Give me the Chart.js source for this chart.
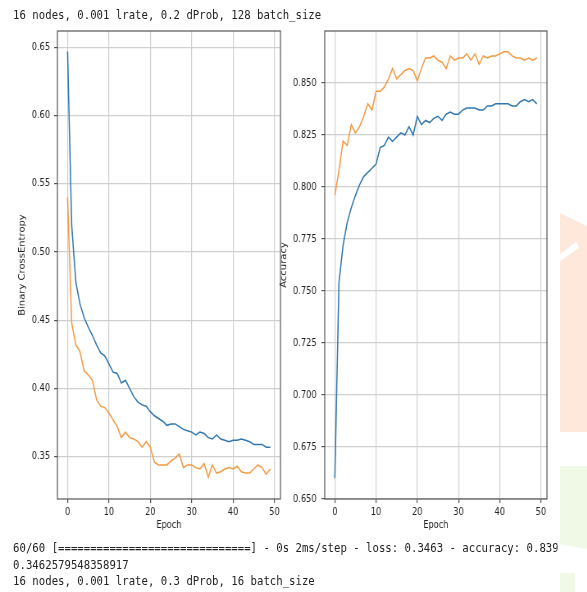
<!DOCTYPE html>
<html>
<head>
<meta charset="utf-8">
<script src="https://cdn.jsdelivr.net/npm/chart.js@4.4.1/dist/chart.umd.min.js"></script>
<style>
  body { margin: 0; background: #fff; width: 587px; height: 592px; overflow: hidden; position: relative; }
  #page { position: absolute; left: 0; top: 0; width: 716px; height: 592px; transform: scaleX(0.82); transform-origin: 0 0; }
  .mono { position: absolute; font-family: "DejaVu Sans Mono", monospace; font-size: 13px; color: #222; white-space: pre; margin: 0; overflow: hidden; }
  canvas { position: absolute; top: 0; }
  .mark { position: absolute; }
</style>
</head>
<body>
<div class="mark" style="left:560px;top:213px;width:27px;height:219px;background:#fde8db;clip-path:polygon(0 0,100% 6%,100% 100%,0 100%,0 22%,70% 16%,60% 13%,0 19%);"></div>
<div class="mark" style="left:560px;top:466px;width:27px;height:83px;background:#f0f9e6;clip-path:polygon(0 0,100% 0,100% 100%,0 94%);"></div>
<div class="mark" style="left:560px;top:573px;width:15px;height:19px;background:#f0f9e6;"></div>
<div id="page">
  <div class="mono" style="left:16px;top:7px;line-height:16px;">16 nodes, 0.001 lrate, 0.2 dProb, 128 batch_size</div>
  <canvas id="lossChart" width="352" height="540" style="left:0;width:352px;height:540px;"></canvas>
  <canvas id="accChart" width="342" height="540" style="left:335px;width:342px;height:540px;"></canvas>
  <div class="mono" style="left:16px;top:540px;width:664px;line-height:16.5px;">60/60 [==============================] - 0s 2ms/step - loss: 0.3463 - accuracy: 0.8392
0.3462579548358917
16 nodes, 0.001 lrate, 0.3 dProb, 16 batch_size</div>
</div>
<script>
// training history (50 epochs)
const lossTrain = [
  0.647, 0.520, 0.478, 0.462, 0.452, 0.445, 0.439, 0.432, 0.426, 0.424,
  0.418, 0.412, 0.411, 0.404, 0.406, 0.400, 0.394, 0.390, 0.388, 0.387,
  0.383, 0.380, 0.378, 0.376, 0.373, 0.374, 0.374, 0.372, 0.370, 0.369,
  0.368, 0.366, 0.368, 0.367, 0.364, 0.363, 0.366, 0.363, 0.362, 0.361,
  0.362, 0.362, 0.363, 0.362, 0.361, 0.359, 0.359, 0.359, 0.357, 0.357,
];
const lossVal = [
  0.540, 0.448, 0.432, 0.427, 0.413, 0.410, 0.406, 0.392, 0.387, 0.386,
  0.382, 0.377, 0.372, 0.364, 0.368, 0.364, 0.363, 0.361, 0.357, 0.361,
  0.357, 0.346, 0.344, 0.344, 0.344, 0.347, 0.349, 0.352, 0.342, 0.344,
  0.344, 0.342, 0.341, 0.345, 0.335, 0.344, 0.338, 0.339, 0.341, 0.342,
  0.341, 0.343, 0.339, 0.338, 0.338, 0.341, 0.344, 0.342, 0.337, 0.341,
];
const accTrain = [
  0.660, 0.754, 0.772, 0.783, 0.790, 0.796, 0.801, 0.805, 0.807, 0.809,
  0.811, 0.819, 0.820, 0.824, 0.822, 0.824, 0.826, 0.825, 0.829, 0.825,
  0.834, 0.830, 0.832, 0.831, 0.833, 0.834, 0.832, 0.835, 0.836, 0.835,
  0.835, 0.837, 0.838, 0.838, 0.838, 0.837, 0.837, 0.839, 0.839, 0.840,
  0.840, 0.840, 0.840, 0.839, 0.839, 0.841, 0.842, 0.841, 0.842, 0.840,
];
const accVal = [
  0.796, 0.808, 0.822, 0.820, 0.830, 0.826, 0.829, 0.834, 0.840, 0.837,
  0.846, 0.846, 0.848, 0.852, 0.857, 0.852, 0.854, 0.856, 0.857, 0.856,
  0.851, 0.857, 0.862, 0.862, 0.863, 0.861, 0.860, 0.857, 0.863, 0.861,
  0.862, 0.862, 0.864, 0.861, 0.864, 0.859, 0.863, 0.862, 0.863, 0.863,
  0.864, 0.865, 0.865, 0.863, 0.862, 0.862, 0.861, 0.862, 0.861, 0.862,
];
const epochs = lossTrain.map((_, i) => i);

const epochTicks = [0, 10, 20, 30, 40, 50];
const lossTicks = [0.35, 0.40, 0.45, 0.50, 0.55, 0.60, 0.65];
const lossTickLabels = ["0.35", "0.40", "0.45", "0.50", "0.55", "0.60", "0.65"];
const accTicks = [0.650, 0.675, 0.700, 0.725, 0.750, 0.775, 0.800, 0.825, 0.850];
const accTickLabels = ["0.650", "0.675", "0.700", "0.725", "0.750", "0.775", "0.800", "0.825", "0.850"];

const BLUE = "#3077ae";
const ORANGE = "#f39a42";
const GRID = "#d0d0d0";
const EDGE = "#555";

Chart.defaults.font.family = "'DejaVu Sans', sans-serif";
Chart.defaults.font.size = 10;
Chart.defaults.color = "#222";

// matplotlib-like box round the plot area
const framePlugin = {
  id: "frame",
  afterDraw(chart) {
    const { ctx, chartArea: a } = chart;
    ctx.save();
    ctx.strokeStyle = EDGE;
    ctx.lineWidth = 1.2;
    ctx.strokeRect(a.left, a.top, a.right - a.left, a.bottom - a.top);
    ctx.restore();
  },
};

function toPoints(values) {
  return values.map((v, i) => ({ x: epochs[i], y: v }));
}

function lineSet(values, color) {
  return {
    data: toPoints(values),
    borderColor: color,
    borderWidth: 1.5,
    pointRadius: 0,
    tension: 0,
    fill: false,
  };
}

function makeOptions(yCfg) {
  return {
    responsive: false,
    animation: false,
    layout: { padding: { left: 0, top: 31, right: 10, bottom: 0 } },
    plugins: { legend: { display: false }, tooltip: { enabled: false } },
    scales: {
      x: {
        type: "linear",
        min: -2.45,
        max: 51.45,
        afterBuildTicks: (axis) => { axis.ticks = epochTicks.map((v) => ({ value: v })); },
        afterFit: (axis) => { axis.height = 41; },
        ticks: { maxRotation: 0, padding: 3, callback: (v) => String(v) },
        grid: { color: GRID, lineWidth: 1.2, tickColor: EDGE, tickLength: 4 },
        border: { display: false },
        title: { display: true, text: "Epoch", padding: { top: 0, bottom: 9 } },
      },
      y: {
        min: yCfg.min,
        max: yCfg.max,
        afterBuildTicks: (axis) => { axis.ticks = yCfg.ticks.map((v) => ({ value: v })); },
        afterFit: (axis) => { axis.width = yCfg.width; },
        ticks: { padding: yCfg.pad, callback: (v, i) => yCfg.labels[i] },
        grid: { color: GRID, lineWidth: 1.2, tickColor: EDGE, tickLength: 4 },
        border: { display: false },
        title: { display: true, text: yCfg.title, padding: { top: yCfg.titlePad, bottom: 0 } },
      },
    },
  };
}

new Chart(document.getElementById("lossChart"), {
  type: "line",
  data: { datasets: [lineSet(lossTrain, BLUE), lineSet(lossVal, ORANGE)] },
  options: makeOptions({
    min: 0.319, max: 0.662, ticks: lossTicks, labels: lossTickLabels,
    width: 70, pad: 5, title: "Binary CrossEntropy", titlePad: 21,
  }),
  plugins: [framePlugin],
});

new Chart(document.getElementById("accChart"), {
  type: "line",
  data: { datasets: [lineSet(accTrain, BLUE), lineSet(accVal, ORANGE)] },
  options: makeOptions({
    min: 0.650, max: 0.875, ticks: accTicks, labels: accTickLabels,
    width: 61, pad: 6, title: "Accuracy", titlePad: 5,
  }),
  plugins: [framePlugin],
});
</script>
</body>
</html>
